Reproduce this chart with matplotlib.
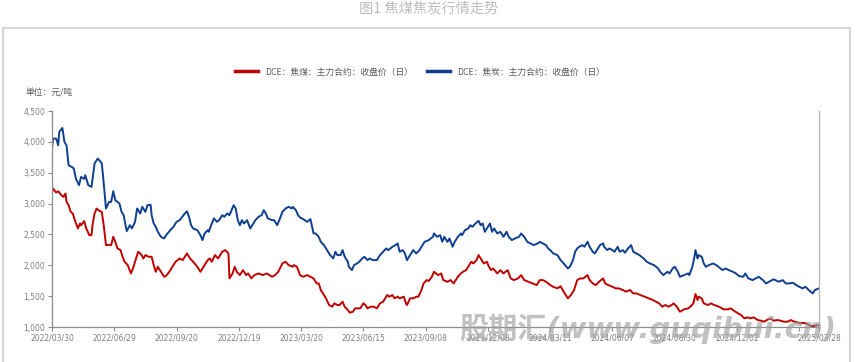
import matplotlib
matplotlib.use("Agg")
import matplotlib.pyplot as plt
from matplotlib.lines import Line2D
from matplotlib.patches import Rectangle
from matplotlib.ticker import FuncFormatter

plt.rcParams['font.family'] = ['DejaVu Sans', 'Noto Sans CJK SC']

# x = trading-day index since 2022/03/30
coal_day = [0, 1, 4, 6, 9, 11, 13, 14, 16, 18, 20, 22, 25, 27, 28, 31, 33, 36, 38, 39,
            41, 43, 46, 48, 50, 52, 55, 57, 59, 61, 63, 66, 68, 70, 73, 76, 78, 80, 83, 86,
            88, 90, 93, 96, 98, 100, 102, 105, 108, 110, 113, 116, 119, 123, 126, 130, 133, 136, 140, 143,
            146, 150, 152, 154, 157, 160, 162, 164, 167, 170, 171, 174, 176, 178, 181, 184, 187, 189, 192, 195,
            199, 203, 207, 212, 215, 218, 222, 225, 228, 232, 233, 236, 239, 242, 246, 249, 252, 255, 257, 259,
            261, 264, 267, 270, 272, 275, 277, 280, 282, 285, 287, 290, 292, 294, 297, 300, 302, 304, 307, 310,
            313, 316, 319, 323, 325, 328, 330, 333, 335, 339, 341, 342, 345, 348, 351, 353, 356, 358, 361, 363,
            366, 368, 372, 375, 377, 381, 384, 387, 391, 394, 396, 399, 401, 404, 406, 409, 411, 414, 416, 419,
            421, 423, 425, 429, 432, 435, 439, 442, 445, 449, 452, 455, 459, 463, 467, 470, 473, 476, 478, 480,
            483, 487, 490, 493, 497, 500, 503, 505, 506, 509, 512, 516, 518, 521, 524, 527, 531, 533, 536, 540,
            543, 546, 550, 553, 557, 560, 563, 567, 571, 575, 579, 582, 585, 588, 591, 594, 597, 599, 602, 605,
            609, 613, 615, 618, 620, 622, 623, 626, 628, 632, 635, 638, 641, 644, 647, 651, 654, 657, 661, 664,
            667, 670, 673, 676, 680, 683, 686, 690, 693, 695, 699, 702, 705, 709, 712, 715, 719, 722, 724, 728,
            731, 734, 738, 739]
coal_close = [3179, 3244, 3179, 3200, 3136, 3109, 3163, 3027, 2974, 2866, 2840, 2731, 2597, 2678, 2650, 2715, 2597, 2488, 2488, 2650,
              2840, 2920, 2877, 2866, 2623, 2327, 2332, 2327, 2461, 2381, 2274, 2247, 2138, 2057, 2003, 1868, 1949, 2057, 2219, 2176,
              2111, 2165, 2138, 2138, 2003, 1895, 1976, 1895, 1814, 1830, 1895, 1976, 2057, 2110, 2084, 2192, 2111, 2057, 1976, 1895,
              1976, 2084, 2111, 2057, 2165, 2111, 2165, 2219, 2246, 2192, 1788, 1868, 1976, 1895, 1841, 1922, 1841, 1868, 1788, 1841,
              1868, 1841, 1868, 1814, 1841, 1895, 2030, 2057, 2003, 1976, 2003, 1976, 1841, 1814, 1841, 1814, 1787, 1706, 1706, 1599,
              1544, 1464, 1356, 1329, 1383, 1356, 1356, 1410, 1329, 1275, 1232, 1248, 1302, 1302, 1302, 1383, 1356, 1302, 1329, 1329,
              1302, 1383, 1410, 1518, 1491, 1518, 1464, 1491, 1464, 1491, 1383, 1356, 1464, 1464, 1491, 1491, 1599, 1706, 1760, 1745,
              1814, 1895, 1841, 1868, 1760, 1733, 1760, 1706, 1814, 1868, 1895, 1922, 1976, 2057, 2030, 2084, 2165, 2084, 2030, 2057,
              1976, 1922, 1949, 1868, 1922, 1868, 1922, 1787, 1760, 1787, 1841, 1760, 1733, 1706, 1679, 1760, 1760, 1733, 1706, 1680,
              1650, 1626, 1660, 1572, 1464, 1518, 1599, 1706, 1760, 1787, 1787, 1841, 1760, 1706, 1679, 1733, 1787, 1706, 1679, 1652,
              1626, 1626, 1599, 1572, 1599, 1544, 1544, 1518, 1491, 1464, 1437, 1410, 1383, 1329, 1356, 1329, 1356, 1383, 1329, 1248,
              1286, 1302, 1329, 1383, 1534, 1437, 1491, 1464, 1383, 1356, 1383, 1356, 1340, 1318, 1286, 1286, 1302, 1264, 1221, 1194,
              1140, 1157, 1140, 1157, 1113, 1103, 1086, 1124, 1135, 1103, 1113, 1103, 1086, 1086, 1113, 1086, 1070, 1059, 1070, 1048,
              1016, 1016, 1032, 1032]

coke_day = [0, 1, 4, 6, 7, 10, 12, 14, 16, 19, 21, 23, 26, 28, 31, 32, 35, 38, 40, 41,
            44, 47, 48, 50, 52, 55, 57, 59, 61, 65, 67, 69, 72, 75, 77, 80, 82, 85, 87, 90,
            92, 95, 96, 98, 100, 102, 105, 108, 110, 114, 117, 120, 123, 128, 130, 132, 134, 136, 140, 143,
            145, 147, 150, 151, 154, 156, 159, 161, 164, 166, 169, 171, 173, 175, 177, 179, 181, 183, 185, 188,
            191, 193, 196, 199, 202, 204, 206, 208, 212, 214, 217, 219, 222, 225, 228, 231, 232, 235, 237, 239,
            242, 246, 249, 252, 254, 257, 259, 262, 265, 268, 271, 273, 275, 278, 280, 282, 285, 286, 289, 291,
            294, 296, 299, 301, 304, 306, 309, 311, 313, 316, 319, 322, 324, 328, 331, 333, 335, 338, 340, 342,
            345, 348, 351, 354, 357, 359, 363, 367, 368, 371, 374, 376, 378, 381, 383, 386, 388, 391, 394, 395,
            398, 401, 403, 405, 408, 411, 413, 415, 417, 420, 422, 424, 426, 429, 432, 435, 438, 440, 443, 446,
            450, 452, 455, 458, 461, 464, 468, 470, 473, 476, 478, 480, 483, 487, 490, 493, 497, 499, 502, 504,
            506, 508, 511, 513, 516, 518, 521, 523, 526, 528, 531, 532, 535, 537, 540, 542, 545, 547, 550, 552,
            555, 558, 560, 563, 566, 570, 573, 576, 580, 584, 586, 589, 593, 595, 598, 600, 603, 605, 609, 613,
            614, 617, 619, 620, 622, 623, 626, 628, 630, 633, 637, 640, 642, 646, 649, 652, 656, 659, 662, 666,
            668, 671, 675, 678, 681, 685, 688, 691, 695, 697, 700, 704, 707, 710, 714, 717, 720, 723, 726, 729,
            733, 735, 739]
coke_close = [3891, 4053, 4053, 3945, 4160, 4225, 3998, 3945, 3621, 3594, 3568, 3406, 3298, 3432, 3400, 3459, 3298, 3270, 3513, 3648,
              3729, 3675, 3648, 3298, 2920, 3027, 3027, 3200, 3055, 3001, 2866, 2812, 2553, 2650, 2597, 2704, 2920, 2840, 2947, 2866,
              2974, 2980, 2812, 2678, 2623, 2542, 2461, 2435, 2488, 2570, 2623, 2704, 2731, 2840, 2874, 2786, 2650, 2596, 2570, 2488,
              2408, 2515, 2570, 2543, 2678, 2759, 2704, 2731, 2812, 2786, 2840, 2812, 2893, 2974, 2920, 2731, 2650, 2731, 2677, 2731,
              2596, 2650, 2731, 2786, 2812, 2893, 2840, 2759, 2731, 2731, 2650, 2731, 2866, 2920, 2947, 2920, 2947, 2893, 2812, 2775,
              2748, 2704, 2748, 2516, 2516, 2461, 2380, 2327, 2246, 2165, 2111, 2219, 2165, 2165, 2246, 2138, 2057, 1976, 1922, 2003,
              2030, 2057, 2111, 2138, 2084, 2111, 2084, 2084, 2084, 2165, 2219, 2273, 2246, 2300, 2327, 2354, 2219, 2246, 2192, 2084,
              2165, 2246, 2192, 2246, 2327, 2380, 2408, 2461, 2516, 2461, 2488, 2380, 2461, 2380, 2434, 2300, 2380, 2461, 2516, 2488,
              2570, 2596, 2650, 2623, 2677, 2720, 2650, 2677, 2543, 2623, 2677, 2543, 2596, 2516, 2543, 2461, 2543, 2461, 2408, 2434,
              2461, 2516, 2461, 2380, 2354, 2327, 2354, 2380, 2354, 2327, 2273, 2246, 2192, 2165, 2084, 2030, 1949, 1976, 2084, 2219,
              2273, 2300, 2327, 2300, 2380, 2300, 2219, 2192, 2273, 2327, 2354, 2300, 2246, 2273, 2246, 2219, 2300, 2219, 2246, 2203,
              2273, 2327, 2219, 2192, 2165, 2111, 2057, 2030, 2003, 1949, 1895, 1841, 1895, 1868, 1949, 1976, 1895, 1814, 1841, 1868,
              1841, 1976, 2138, 2246, 2111, 2165, 2138, 2030, 1976, 2003, 2030, 2003, 1976, 1922, 1949, 1922, 1895, 1868, 1825, 1814,
              1868, 1787, 1760, 1787, 1814, 1760, 1706, 1733, 1771, 1760, 1733, 1760, 1706, 1706, 1717, 1679, 1652, 1626, 1652, 1599,
              1544, 1599, 1626]

tick_days = [0, 60, 120, 180, 240, 300, 360, 420, 480, 540, 600, 660, 739]
tick_labels = ['2022/03/30', '2022/06/29', '2022/09/20', '2022/12/19', '2023/03/20',
               '2023/06/15', '2023/09/08', '2023/12/08', '2024/03/11', '2024/06/07',
               '2024/08/30', '2024/12/02', '2025/03/28']
extra_tick_days = [720]

coal_label = 'DCE：焦煤：主力合约：收盘价（日）'
coke_label = 'DCE：焦炭：主力合约：收盘价（日）'

RED = '#C00000'
BLUE = '#0E3F91'
cjk = ['Noto Sans CJK SC', 'DejaVu Sans']

fig = plt.figure(figsize=(8.58, 3.62), dpi=100)

# outer frame
fig.patches.append(Rectangle((3 / 858, -0.05), 847 / 858, 1.05 - 28 / 362,
                             transform=fig.transFigure, fill=False,
                             edgecolor='#d6d6d6', linewidth=1.5))

fig.text(0.5, 1 - 9 / 362, '图1 焦煤焦炭行情走势', ha='center', va='center',
         fontsize=10.3, color='#bdbdbd', family=cjk)

ax = fig.add_axes([52 / 858, 1 - 327 / 362, 767 / 858, 216 / 362])
ax.plot(coal_day, coal_close, color=RED, lw=1.4)
ax.plot(coke_day, coke_close, color=BLUE, lw=1.4)

ax.set_xlim(0, 739)
ax.set_ylim(1000, 4500)
ax.set_yticks(range(1000, 4501, 500))
ax.yaxis.set_major_formatter(FuncFormatter(lambda v, p: f'{int(v):,}'))
ax.set_xticks(tick_days)
ax.set_xticklabels(tick_labels)
ax.set_xticks(extra_tick_days, minor=True)

for s in ['left', 'bottom']:
    ax.spines[s].set_color('#8c8c8c')
    ax.spines[s].set_linewidth(0.9)
ax.spines['right'].set_color('#b3b3b3')
ax.spines['right'].set_linewidth(0.9)
ax.spines['top'].set_visible(False)
ax.tick_params(axis='both', which='both', colors='#8c8c8c', length=3, width=0.8,
               labelsize=5.5, labelcolor='#7f7f7f', pad=2)

fig.text(25 / 858, 1 - 93 / 362, '单位：元/吨', ha='left', va='center',
         fontsize=6.3, color='#595959', family=cjk)

handles = [Line2D([], [], color=RED, lw=2.5), Line2D([], [], color=BLUE, lw=2.5)]
leg = fig.legend(handles, [coal_label, coke_label], loc='center',
                 bbox_to_anchor=(420 / 858, 1 - 72 / 362), ncol=2, frameon=False,
                 prop={'family': cjk, 'size': 6.3}, handlelength=2.6,
                 handletextpad=0.8, columnspacing=1.6)
for t in leg.get_texts():
    t.set_color('#595959')

# site watermark
fig.text(648 / 858, 1 - 329 / 362, '股期汇(www.guqibui.cn)', ha='center', va='center',
         fontsize=21, fontweight='bold', style='italic', color='#a0a0a0', alpha=0.65,
         family=['DejaVu Sans', 'Noto Sans CJK SC'])

fig.savefig('out.png', dpi=100)
